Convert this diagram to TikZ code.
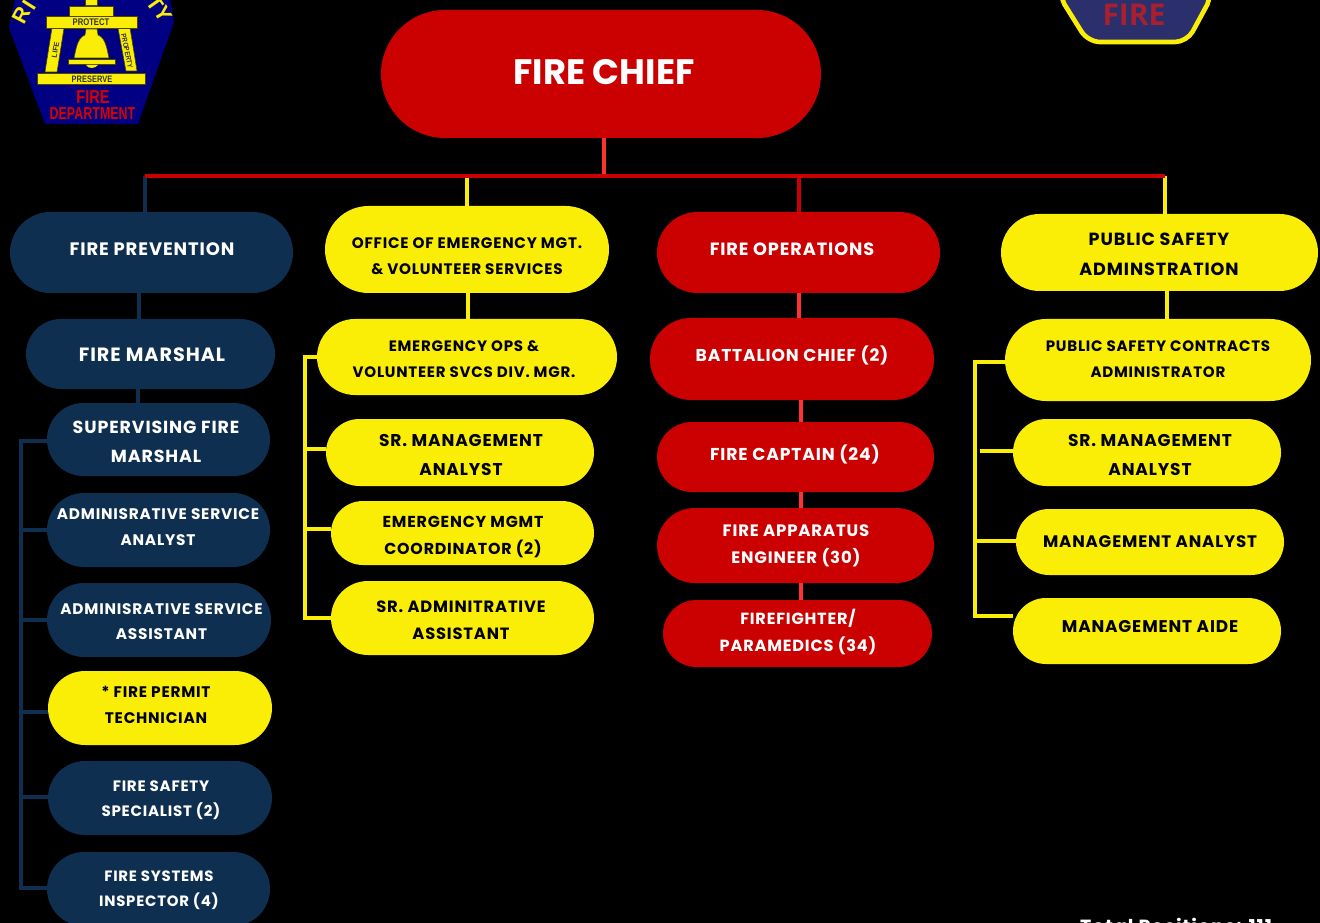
\documentclass[tikz,border=0pt]{standalone}
\usepackage{fontspec}
\setmainfont{Poppins}[LetterSpace=5]
\newfontfamily\plainfont{Poppins}
\newfontfamily\badgefont{Liberation Sans}
\newfontfamily\firefont{Open Sans}
\definecolor{navy}{HTML}{0F2F50}
\definecolor{sun}{HTML}{FAEE07}
\definecolor{fire}{HTML}{CB0000}
\definecolor{link}{HTML}{FF3131}
\definecolor{badge}{HTML}{020082}
\definecolor{badgeb}{HTML}{2B2F6C}
\definecolor{badgered}{HTML}{A8202F}
\tikzset{
  x=0.75pt,y=-0.75pt,
  wire/.style={line width=3pt},
  navywire/.style={wire,draw=navy},
  sunwire/.style={wire,draw=sun},
  redwire/.style={wire,draw=link},
  pillnavy/.style={fill=navy},
  pillsun/.style={fill=sun},
  pillfire/.style={fill=fire},
  lab/.style={align=center,inner sep=0pt},
  lightlab/.style={lab,text=white},
  darklab/.style={lab,text=black},
  logoY/.style={fill=sun,draw=black!70!sun,line width=.4pt}
}
% name x1 y1 x2 y2 style
\newcommand{\pill}[6]{%
  \pgfmathsetmacro{\cxx}{(#2+#4)/2}\pgfmathsetmacro{\cyy}{(#3+#5)/2}%
  \pgfmathsetmacro{\ww}{(#4-#2)*0.75}\pgfmathsetmacro{\hh}{(#5-#3)*0.75}%
  \pgfmathsetmacro{\rr}{(#5-#3)*0.375-0.01}%
  \node[#6,draw=none,inner sep=0pt,minimum width=\ww pt,minimum height=\hh pt,rounded corners=\rr pt] (#1) at (\cxx,\cyy) {};}
% name x y style size leading text
\newcommand{\lbl}[7]{\node[#4,font=\bfseries\fontsize{#5}{#6}\selectfont] (#1) at (#2,#3) {#7};}
\begin{document}
\begin{tikzpicture}
\useasboundingbox (0,0) rectangle (1320,923);
\clip (0,0) rectangle (1320,923);
\fill[black] (0,0) rectangle (1320,923);

% ---- left badge
\fill[badge] (15,-2) -- (9,28) -- (45,124) -- (138,124) -- (174,22) -- (170,-2) -- cycle;
\node[inner sep=0,text=sun,rotate=62,font=\badgefont\bfseries\fontsize{16}{16}\selectfont] (ri1) at (21,15) {R};
\node[inner sep=0,text=sun,rotate=58,font=\badgefont\bfseries\fontsize{16}{16}\selectfont] (ri2) at (29,5) {I};
\node[inner sep=0,text=sun,rotate=-55,font=\badgefont\bfseries\fontsize{16}{16}\selectfont] (ty1) at (155,4) {T};
\node[inner sep=0,text=sun,rotate=-60,font=\badgefont\bfseries\fontsize{16}{16}\selectfont] (ty2) at (163,14) {Y};
\filldraw[logoY] (85,-2) rectangle (97,5);
\filldraw[logoY] (69,6) rectangle (113,16);
\filldraw[logoY] (52,28) -- (64,28) -- (57,72) -- (45,72) -- cycle;
\filldraw[logoY] (118,28) -- (130,28) -- (137,71) -- (126,71) -- cycle;
\filldraw[logoY] (46,16) rectangle (137,28);
\filldraw[logoY] (86,29) -- (97,29) -- (98,35) .. controls (106,38) and (107,50) .. (109,58) -- (74,58) .. controls (76,50) and (77,38) .. (85,35) -- cycle;
\filldraw[logoY] (68,59) rectangle (115,64);
\fill[sun] (86,65) .. controls (88,69) and (95,69) .. (98,65) -- cycle;
\filldraw[logoY] (37,73) rectangle (145,84);
\node[inner sep=0,text=black!80,font=\badgefont\bfseries\fontsize{7.2}{8}\selectfont] (protect) at (91,22) {\scalebox{.8}[1]{PROTECT}};
\node[inner sep=0,text=black!80,font=\badgefont\bfseries\fontsize{7}{8}\selectfont] (preserve) at (92,79) {\scalebox{.8}[1]{PRESERVE}};
\node[inner sep=0,text=black!80,rotate=80,font=\badgefont\bfseries\fontsize{5.5}{7}\selectfont] (life) at (55.5,50) {LIFE};
\node[inner sep=0,text=black!80,rotate=-78,font=\badgefont\bfseries\fontsize{5.5}{7}\selectfont] (property) at (127,51) {\scalebox{.85}[1]{PROPERTY}};
\node[inner sep=0,text=red!85!black,font=\badgefont\bfseries\fontsize{14}{14}\selectfont] (bfire) at (93,97) {\scalebox{.78}[1]{FIRE}};
\node[inner sep=0,text=red!85!black,font=\badgefont\bfseries\fontsize{13}{14}\selectfont] (bdept) at (92.5,113.5) {\scalebox{.72}[1]{DEPARTMENT}};

% ---- right badge
\filldraw[fill=badgeb,draw=sun,line width=3.5pt,rounded corners=9pt] (1058,-6) -- (1088,42) -- (1187,42) -- (1213,-6) -- cycle;
\node[inner sep=0,text=badgered,font=\firefont\bfseries\fontsize{22.5}{23}\selectfont] (rfire) at (1134,15) {\scalebox{1}[1]{FIRE}};

% ---- pills
\pill{chief}{381}{10}{821}{138}{pillfire}
\pill{fp}{10}{212}{293}{293}{pillnavy}
\pill{oem}{325}{206}{609}{293}{pillsun}
\pill{fo}{657}{212}{940}{293}{pillfire}
\pill{psa}{1001}{214}{1318}{291}{pillsun}
\pill{marshal}{26}{319}{275}{389}{pillnavy}
\pill{sup}{47}{403}{270}{476}{pillnavy}
\pill{analyst}{47}{493}{270}{567}{pillnavy}
\pill{asst}{47}{583}{271}{657}{pillnavy}
\pill{permit}{48}{671}{272}{745}{pillsun}
\pill{safety}{48}{761}{272}{835}{pillnavy}
\pill{systems}{47}{852}{270}{926}{pillnavy}
\pill{ops}{317}{319}{617}{395}{pillsun}
\pill{srmaA}{326}{419}{594}{486}{pillsun}
\pill{emc}{331}{501}{594}{565}{pillsun}
\pill{sradm}{331}{581}{594}{655}{pillsun}
\pill{bc}{650}{318}{934}{400}{pillfire}
\pill{capt}{657}{422}{934}{492}{pillfire}
\pill{fae}{657}{508}{934}{583}{pillfire}
\pill{ff}{663}{600}{932}{667}{pillfire}
\pill{psca}{1005}{319}{1311}{401}{pillsun}
\pill{srmaB}{1013}{419}{1281}{486}{pillsun}
\pill{ma}{1016}{509}{1284}{575}{pillsun}
\pill{aide}{1013}{598}{1281}{664}{pillsun}

% ---- trunk and drops
\coordinate (busC) at (604,176);
\coordinate (busL) at (145,176);
\coordinate (busO) at (467,176);
\coordinate (busF) at (799,176);
\coordinate (busR) at (1165,176);
\draw[redwire] (busC |- chief.south) -- (busC);
\draw[navywire] (busL) -- (busL |- fp.north);
\draw[sunwire] (busO) -- (busO |- oem.north);
\draw[draw=fire,wire] (busF) -- (busF |- fo.north);
\draw[sunwire] (busR) -- (busR |- psa.north);
\draw[wire,draw=fire] (busL) -- (busR);

% ---- column links
\coordinate (cA) at (139,300);
\coordinate (cB) at (138,396);
\coordinate (cC) at (468,300);
\coordinate (cD) at (799,300);
\coordinate (cE) at (801,410);
\coordinate (cF) at (1167,300);
\draw[navywire] (cA |- fp.south) -- (cA |- marshal.north);
\draw[navywire] (cB |- marshal.south) -- (cB |- sup.north);
\draw[sunwire] (cC |- oem.south) -- (cC |- ops.north);
\draw[redwire] (cD |- fo.south) -- (cD |- bc.north);
\draw[redwire] (cE |- bc.south) -- (cE |- capt.north);
\draw[redwire] (cE |- capt.south) -- (cE |- fae.north);
\draw[redwire] (cE |- fae.south) -- (cE |- ff.north);
\draw[sunwire] (cF |- psa.south) -- (cF |- psca.north);

% ---- brackets
\coordinate (nT) at (21,441);
\coordinate (nB) at (21,888);
\draw[navywire,line cap=rect] (sup.west |- nT) -- (nT) -- (nB) -- (systems.west |- nB);
\coordinate (n2) at (21,530);\coordinate (n3) at (21,620);\coordinate (n4) at (21,712);\coordinate (n5) at (21,797);
\draw[navywire] (n2) -- (analyst.west |- n2);
\draw[navywire] (n3) -- (asst.west |- n3);
\draw[navywire] (n4) -- (permit.west |- n4);
\draw[navywire] (n5) -- (safety.west |- n5);

\coordinate (yT) at (305,357);
\coordinate (yB) at (305,618);
\draw[sunwire] (ops.west |- yT) -- (yT) -- (yB) -- (sradm.west |- yB);
\coordinate (y2) at (305,449);\coordinate (y3) at (305,529);
\draw[sunwire] (y2) -- (srmaA.west |- y2);
\draw[sunwire] (y3) -- (emc.west |- y3);

\coordinate (zT) at (975,362);
\coordinate (zB) at (975,616);
\draw[sunwire] (psca.west |- zT) -- (zT) -- (zB) -- (aide.west |- zB);
\coordinate (z2) at (980,451);\coordinate (z3) at (977,541);
\draw[sunwire] (z2) -- (srmaB.west |- z2);
\draw[sunwire] (z3) -- (ma.west |- z3);

% ---- labels
\lbl{tchief}{604}{72}{lightlab}{26.5}{30}{\plainfont\bfseries FIRE CHIEF}
\lbl{tfp}{152}{249}{lightlab}{13.5}{16}{FIRE PREVENTION}
\lbl{toem}{467}{255.7}{darklab}{11.4}{19.5}{OFFICE OF EMERGENCY MGT.\\ \& VOLUNTEER SERVICES}
\lbl{tfo}{792}{249}{lightlab}{13.3}{16}{FIRE OPERATIONS}
\lbl{tpsa}{1159}{254}{darklab}{13.2}{22.5}{PUBLIC SAFETY\\ ADMINSTRATION}
\lbl{tmarshal}{152}{355}{lightlab}{14.4}{16}{FIRE MARSHAL}
\lbl{tsup}{156}{441.5}{lightlab}{13.1}{21.75}{SUPERVISING FIRE\\ MARSHAL}
\lbl{tanalyst}{158}{527}{lightlab}{11.5}{19.5}{ADMINISRATIVE SERVICE\\ ANALYST}
\lbl{tasst}{161.5}{621.5}{lightlab}{11.5}{19}{ADMINISRATIVE SERVICE\\ ASSISTANT}
\lbl{tpermit}{156}{705}{darklab}{11.5}{19.5}{* FIRE PERMIT\\ TECHNICIAN}
\lbl{tsafety}{161}{800}{lightlab}{11.3}{18.75}{FIRE SAFETY\\ SPECIALIST (2)}
\lbl{tsystems}{159}{890}{lightlab}{11.2}{18.75}{FIRE SYSTEMS\\ INSPECTOR (4)}
\lbl{tops}{464}{359}{darklab}{11.3}{19.5}{EMERGENCY OPS \&\\ VOLUNTEER SVCS DIV. MGR.}
\lbl{tsrmaA}{461}{454.5}{darklab}{12.8}{21.75}{SR. MANAGEMENT\\ ANALYST}
\lbl{temc}{463}{537}{darklab}{11.9}{20.25}{EMERGENCY MGMT\\ COORDINATOR (2)}
\lbl{tsradm}{461}{620.5}{darklab}{12.25}{20.25}{SR. ADMINITRATIVE\\ ASSISTANT}
\lbl{tbc}{792}{355}{lightlab}{12.85}{16}{BATTALION CHIEF (2)}
\lbl{tcapt}{795}{454}{lightlab}{12.9}{16}{FIRE CAPTAIN (24)}
\lbl{tfae}{796}{546}{lightlab}{12.4}{20.25}{FIRE APPARATUS\\ ENGINEER (30)}
\lbl{tff}{798}{632.5}{lightlab}{12.1}{20.25}{FIREFIGHTER/\\ PARAMEDICS (34)}
\lbl{tpsca}{1158}{359}{darklab}{11.3}{19.5}{PUBLIC SAFETY CONTRACTS\\ ADMINISTRATOR}
\lbl{tsrmaB}{1150}{454.5}{darklab}{12.8}{21.75}{SR. MANAGEMENT\\ ANALYST}
\lbl{tma}{1150}{542}{darklab}{12.5}{16}{MANAGEMENT ANALYST}
\lbl{taide}{1150}{627}{darklab}{12.7}{16}{MANAGEMENT AIDE}
\lbl{ttotal}{1176}{926}{lightlab}{14.3}{18}{Total Positions: 111}
\end{tikzpicture}
\end{document}
